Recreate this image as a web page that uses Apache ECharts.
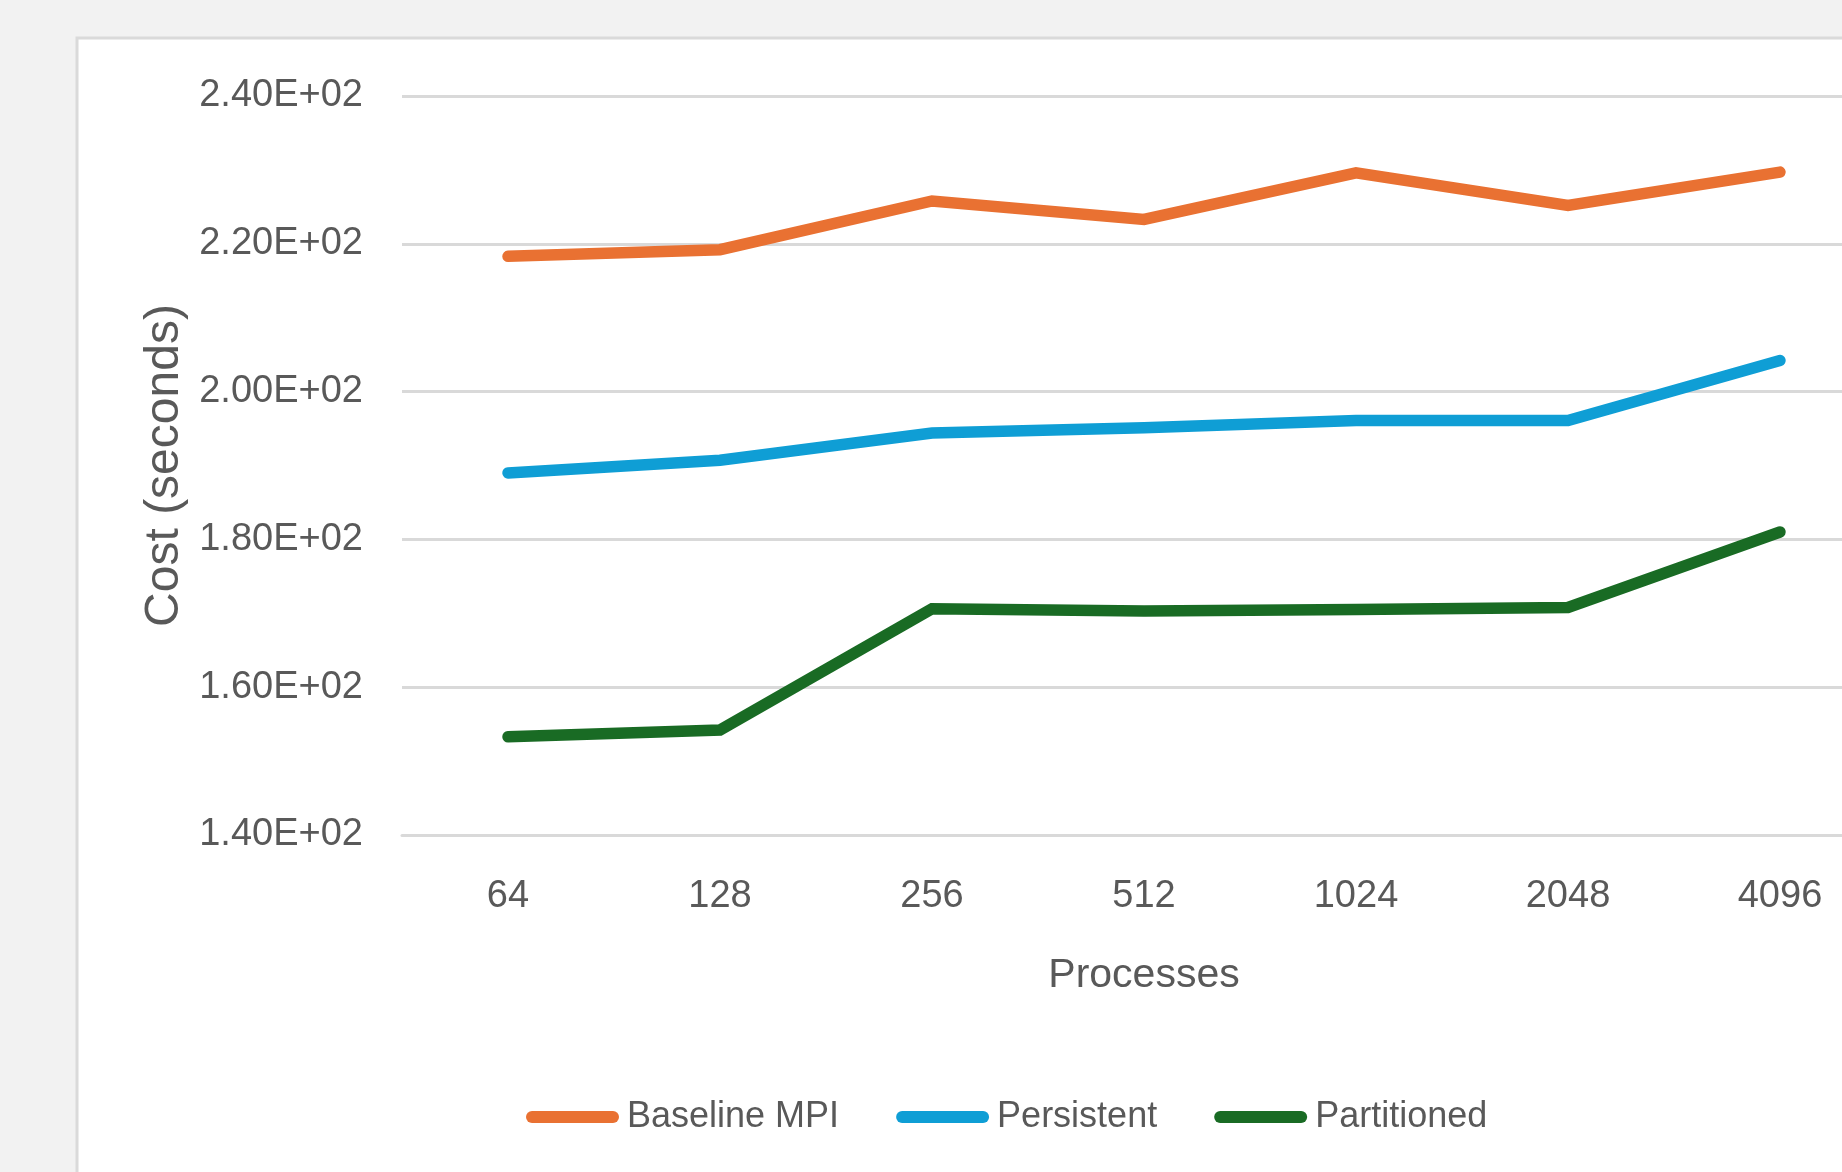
<!DOCTYPE html>
<html>
<head>
<meta charset="utf-8">
<title>Cost vs Processes</title>
<script src="https://cdn.jsdelivr.net/npm/echarts@6/dist/echarts.min.js"></script>
<style>
  html, body { margin: 0; padding: 0; background: #F2F2F2; overflow: hidden; }
  /* the plot runs past the right edge of the window, so the canvas is wider than the page */
  #chart { width: 1900px; height: 1172px; }
</style>
</head>
<body>
<div id="chart"></div>
<script>
// Process counts on the horizontal axis
const processes = ['64', '128', '256', '512', '1024', '2048', '4096'];

// Cost in seconds for each communication variant
const baselineMPI = [218.3, 219.2, 225.8, 223.3, 229.6, 225.2, 229.7];
const persistent  = [189.0, 190.7, 194.4, 195.1, 196.1, 196.1, 204.2];
const partitioned = [153.3, 154.2, 170.6, 170.3, 170.5, 170.8, 181.0];

const seriesNames = ['Baseline MPI', 'Persistent', 'Partitioned'];
const seriesColors = ['#E97132', '#0F9ED5', '#196B24'];

// Value axis range
const yMin = 140, yMax = 240, yStep = 20;

const labelFont = '"Liberation Sans", Arial, sans-serif';
const textColor = '#595959';

// Scientific notation with a two-digit exponent, e.g. 2.40E+02
function sci(v) {
  const [m, e] = v.toExponential(2).split('e');
  const n = parseInt(e, 10);
  const sign = n < 0 ? '-' : '+';
  return m + 'E' + sign + String(Math.abs(n)).padStart(2, '0');
}

const chart = echarts.init(document.getElementById('chart'), null, { renderer: 'canvas' });

// rounded line swatch for the legend
const pill = 'path://M6,0 L87,0 A6,6 0 0 1 87,12 L6,12 A6,6 0 0 1 6,0 Z';

function lineSeries(name, data, color) {
  return {
    name: name,
    type: 'line',
    data: data,
    symbol: 'none',
    smooth: false,
    lineStyle: { color: color, width: 11.5, cap: 'round', join: 'miter' },
    itemStyle: { color: color },
    emphasis: { disabled: true }
  };
}

chart.setOption({
  backgroundColor: '#F2F2F2',
  animation: false,
  graphic: [{
    type: 'rect',
    z: -10,
    silent: true,
    shape: { x: 77, y: 38, width: 2000, height: 2000 },
    style: { fill: '#FFFFFF', stroke: '#DADADA', lineWidth: 3 }
  }],
  grid: { left: 402, top: 96, width: 1484, height: 739, containLabel: false },
  xAxis: {
    type: 'category',
    data: processes,
    boundaryGap: true,
    axisLine: { show: true, lineStyle: { color: '#D9D9D9', width: 3 } },
    axisTick: { show: false },
    axisLabel: { color: textColor, fontFamily: labelFont, fontSize: 38, margin: 43 },
    name: 'Processes',
    nameLocation: 'middle',
    nameGap: 120,
    nameTextStyle: { color: textColor, fontFamily: labelFont, fontSize: 41 },
    splitLine: { show: false }
  },
  yAxis: {
    type: 'value',
    min: yMin,
    max: yMax,
    interval: yStep,
    axisLine: { show: false },
    axisTick: { show: false },
    axisLabel: { color: textColor, fontFamily: labelFont, fontSize: 38, margin: 39, formatter: sci },
    splitLine: { show: true, lineStyle: { color: '#D9D9D9', width: 3 } },
    name: 'Cost (seconds)',
    nameLocation: 'middle',
    nameRotate: 90,
    nameGap: 181,
    nameTextStyle: { color: textColor, fontFamily: labelFont, fontSize: 48 }
  },
  legend: {
    show: true,
    left: 526,
    top: 1099,
    padding: 0,
    itemWidth: 93,
    itemHeight: 12,
    itemGap: 57,
    icon: pill,
    textStyle: { color: textColor, fontFamily: labelFont, fontSize: 36, padding: [0, 0, 0, 3] },
    data: seriesNames
  },
  series: [
    lineSeries(seriesNames[0], baselineMPI, seriesColors[0]),
    lineSeries(seriesNames[1], persistent, seriesColors[1]),
    lineSeries(seriesNames[2], partitioned, seriesColors[2])
  ]
});
</script>
</body>
</html>
